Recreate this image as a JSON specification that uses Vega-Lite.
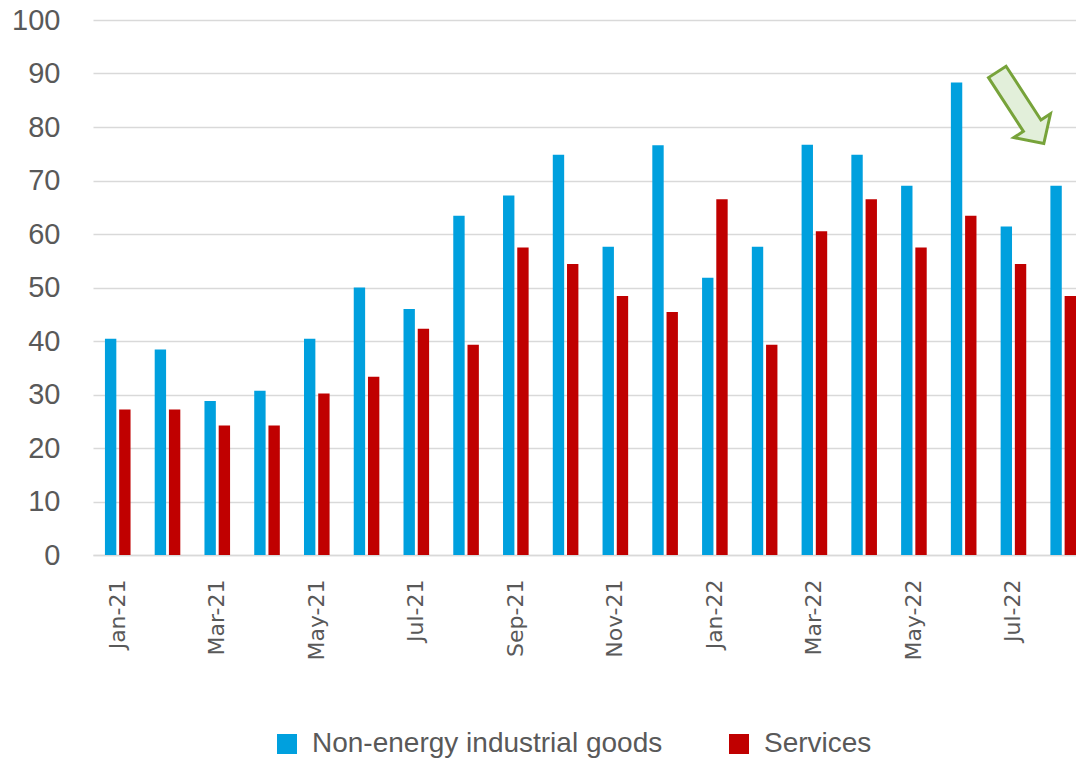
{
  "$schema": "https://vega.github.io/schema/vega-lite/v6.json",
  "width": 983,
  "height": 535,
  "autosize": {"type": "none"},
  "padding": {"left": 93, "top": 20, "right": 0, "bottom": 207},
  "background": "white",
  "config": {
    "font": "Liberation Sans",
    "view": {"stroke": null}
  },
  "layer": [
    {
      "data": {
        "values": [
          {"month": "Jan-21", "series": "Non-energy industrial goods", "value": 40.4},
          {"month": "Feb-21", "series": "Non-energy industrial goods", "value": 38.4},
          {"month": "Mar-21", "series": "Non-energy industrial goods", "value": 28.8},
          {"month": "Apr-21", "series": "Non-energy industrial goods", "value": 30.7},
          {"month": "May-21", "series": "Non-energy industrial goods", "value": 40.4},
          {"month": "Jun-21", "series": "Non-energy industrial goods", "value": 50.0},
          {"month": "Jul-21", "series": "Non-energy industrial goods", "value": 46.0},
          {"month": "Aug-21", "series": "Non-energy industrial goods", "value": 63.4},
          {"month": "Sep-21", "series": "Non-energy industrial goods", "value": 67.2},
          {"month": "Oct-21", "series": "Non-energy industrial goods", "value": 74.8},
          {"month": "Nov-21", "series": "Non-energy industrial goods", "value": 57.6},
          {"month": "Dec-21", "series": "Non-energy industrial goods", "value": 76.6},
          {"month": "Jan-22", "series": "Non-energy industrial goods", "value": 51.8},
          {"month": "Feb-22", "series": "Non-energy industrial goods", "value": 57.6},
          {"month": "Mar-22", "series": "Non-energy industrial goods", "value": 76.7},
          {"month": "Apr-22", "series": "Non-energy industrial goods", "value": 74.8},
          {"month": "May-22", "series": "Non-energy industrial goods", "value": 69.0},
          {"month": "Jun-22", "series": "Non-energy industrial goods", "value": 88.3},
          {"month": "Jul-22", "series": "Non-energy industrial goods", "value": 61.4},
          {"month": "Aug-22", "series": "Non-energy industrial goods", "value": 69.0},
          {"month": "Jan-21", "series": "Services", "value": 27.2},
          {"month": "Feb-21", "series": "Services", "value": 27.2},
          {"month": "Mar-21", "series": "Services", "value": 24.2},
          {"month": "Apr-21", "series": "Services", "value": 24.2},
          {"month": "May-21", "series": "Services", "value": 30.2},
          {"month": "Jun-21", "series": "Services", "value": 33.3},
          {"month": "Jul-21", "series": "Services", "value": 42.3},
          {"month": "Aug-21", "series": "Services", "value": 39.3},
          {"month": "Sep-21", "series": "Services", "value": 57.5},
          {"month": "Oct-21", "series": "Services", "value": 54.4},
          {"month": "Nov-21", "series": "Services", "value": 48.4},
          {"month": "Dec-21", "series": "Services", "value": 45.4},
          {"month": "Jan-22", "series": "Services", "value": 66.5},
          {"month": "Feb-22", "series": "Services", "value": 39.3},
          {"month": "Mar-22", "series": "Services", "value": 60.5},
          {"month": "Apr-22", "series": "Services", "value": 66.5},
          {"month": "May-22", "series": "Services", "value": 57.5},
          {"month": "Jun-22", "series": "Services", "value": 63.4},
          {"month": "Jul-22", "series": "Services", "value": 54.4},
          {"month": "Aug-22", "series": "Services", "value": 48.4}
        ]
      },
      "mark": {"type": "bar"},
      "encoding": {
        "x": {
          "field": "month",
          "type": "nominal",
          "scale": {
            "domain": ["Jan-21","Feb-21","Mar-21","Apr-21","May-21","Jun-21","Jul-21","Aug-21","Sep-21","Oct-21","Nov-21","Dec-21","Jan-22","Feb-22","Mar-22","Apr-22","May-22","Jun-22","Jul-22","Aug-22"],
            "paddingInner": 0.4855,
            "paddingOuter": 0.12,
            "align": 1
          },
          "axis": {
            "title": null,
            "values": ["Jan-21","Mar-21","May-21","Jul-21","Sep-21","Nov-21","Jan-22","Mar-22","May-22","Jul-22"],
            "labelAngle": -90,
            "labelFontSize": 22,
            "labelFont": "DejaVu Sans",
            "labelColor": "#595959",
            "labelPadding": 24,
            "ticks": false,
            "domain": true,
            "domainColor": "#d9d9d9",
            "domainWidth": 1.5,
            "grid": false
          }
        },
        "xOffset": {
          "field": "series",
          "type": "nominal",
          "scale": {"domain": ["Non-energy industrial goods", "Services"], "paddingInner": 0.2, "paddingOuter": 0}
        },
        "y": {
          "field": "value",
          "type": "quantitative",
          "scale": {"domain": [0, 100], "nice": false},
          "axis": {
            "title": null,
            "values": [0,10,20,30,40,50,60,70,80,90,100],
            "labelFontSize": 29,
            "labelColor": "#595959",
            "labelPadding": 33,
            "ticks": false,
            "domain": false,
            "grid": true,
            "gridColor": "#d9d9d9",
            "gridWidth": 1.5
          }
        },
        "color": {
          "field": "series",
          "type": "nominal",
          "scale": {"domain": ["Non-energy industrial goods", "Services"], "range": ["#00A0DE", "#C00000"]},
          "legend": {
            "title": null,
            "orient": "none",
            "legendX": 180,
            "legendY": 710,
            "direction": "horizontal",
            "symbolType": "square",
            "symbolSize": 400,
            "symbolStrokeWidth": 0,
            "labelFontSize": 28,
            "labelColor": "#595959",
            "labelOffset": 11,
            "labelLimit": 600,
            "columnPadding": 62
          }
        }
      }
    },
    {
      "data": {"values": [{"month": "Jul-22", "series": "Services", "value": 83.6}]},
      "mark": {
        "type": "point",
        "shape": "M-1,-0.245L0.5,-0.245L0.5,-0.51L1,0L0.5,0.51L0.5,0.245L-1,0.245Z",
        "size": 7300,
        "angle": 57,
        "filled": true,
        "fill": "#E2EFDA",
        "stroke": "#77A33A",
        "strokeWidth": 3,
        "opacity": 1
      },
      "encoding": {
        "x": {"field": "month", "type": "nominal"},
        "xOffset": {"field": "series", "type": "nominal"},
        "y": {"field": "value", "type": "quantitative"}
      }
    }
  ]
}
